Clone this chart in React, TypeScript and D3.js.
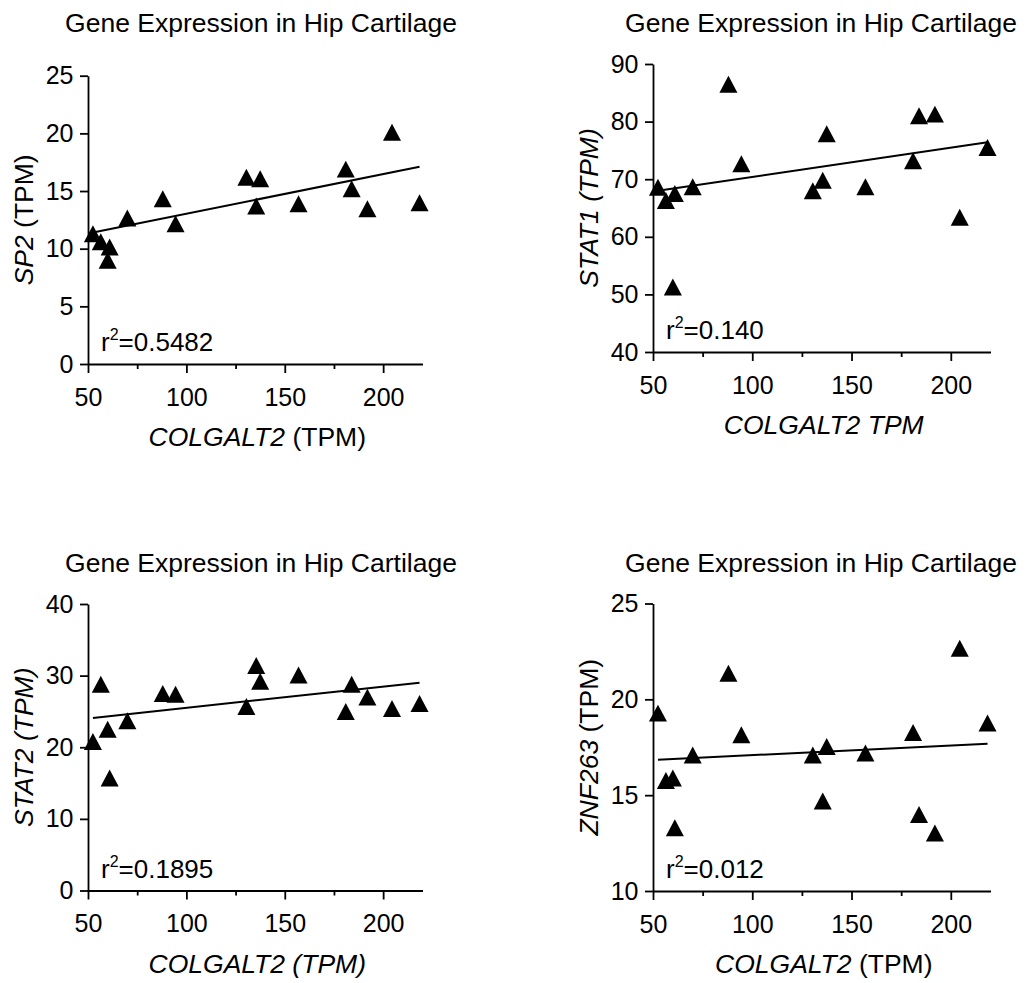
import React, { useEffect, useRef } from "react";
import * as d3 from "d3";

// COLGALT2 TPM per sample (shared x for all four panels)
const colgalt2 = [52.5, 56.5, 60, 61, 70, 88, 94.5, 130.5, 135.5, 137.5, 157, 181, 184, 192, 204.5, 218.5];

// y values
const sp2 = [11.3, 10.6, 9.0, 10.15, 12.66, 14.33, 12.17, 16.2, 13.7, 16.06, 13.9, 16.9, 15.2, 13.47, 20.1, 13.98];
const stat1 = [68.6, 66.3, 51.3, 67.5, 68.7, 86.5, 72.7, 68.0, 69.8, 77.9, 68.7, 73.2, 81.0, 81.3, 63.4, 75.5];
const stat2 = [20.8, 28.8, 22.5, 15.7, 23.7, 27.5, 27.4, 25.7, 31.4, 29.2, 30.1, 25.0, 28.8, 27.0, 25.4, 26.1];
const znf263 = [19.28, 15.77, 15.9, 13.3, 17.1, 21.36, 18.15, 17.1, 14.7, 17.54, 17.2, 18.27, 13.99, 13.03, 22.66, 18.76];

// fitted line value at min x and max x
const fitSp2 = [11.4, 17.1];
const fitStat1 = [68.0, 76.4];
const fitStat2 = [24.1, 29.0];
const fitZnf263 = [16.85, 17.68];

const r2Labels = ["0.5482", "0.140", "0.1895", "0.012"];

const xDomain = [50, 220];
const xTicks = [50, 100, 150, 200];
const xMinorTicks = [75, 125, 175];

const yTicksSp2 = [0, 5, 10, 15, 20, 25];
const yTicksStat1 = [40, 50, 60, 70, 80, 90];
const yTicksStat2 = [0, 10, 20, 30, 40];
const yTicksZnf263 = [10, 15, 20, 25];

const title = "Gene Expression in Hip Cartilage";

const FONT = "'Liberation Sans', Arimo, Arial, Helvetica, sans-serif";

type Seg = { t: string; i: boolean };

const panels = [
  {
    ys: sp2, fit: fitSp2, r2: r2Labels[0], yTicks: yTicksSp2,
    yLabel: [{ t: "SP2", i: true }, { t: " (TPM)", i: false }] as Seg[],
    xLabel: [{ t: "COLGALT2", i: true }, { t: " (TPM)", i: false }] as Seg[],
    left: 88, right: 422.5, top: 75.7, bottom: 364, titleX: 261, titleY: 32,
  },
  {
    ys: stat1, fit: fitStat1, r2: r2Labels[1], yTicks: yTicksStat1,
    yLabel: [{ t: "STAT1 (TPM)", i: true }] as Seg[],
    xLabel: [{ t: "COLGALT2 TPM", i: true }] as Seg[],
    left: 653, right: 990.5, top: 64, bottom: 352, titleX: 821, titleY: 32,
  },
  {
    ys: stat2, fit: fitStat2, r2: r2Labels[2], yTicks: yTicksStat2,
    yLabel: [{ t: "STAT2 (TPM)", i: true }] as Seg[],
    xLabel: [{ t: "COLGALT2 (TPM)", i: true }] as Seg[],
    left: 88, right: 422.5, top: 604, bottom: 890.5, titleX: 261, titleY: 572,
  },
  {
    ys: znf263, fit: fitZnf263, r2: r2Labels[3], yTicks: yTicksZnf263,
    yLabel: [{ t: "ZNF263", i: true }, { t: " (TPM)", i: false }] as Seg[],
    xLabel: [{ t: "COLGALT2", i: true }, { t: " (TPM)", i: false }] as Seg[],
    left: 653, right: 990.5, top: 603.5, bottom: 891, titleX: 821, titleY: 572,
  },
];

// triangle centred on its bounding box
const triangle = {
  draw(ctx: any, size: number) {
    const w = Math.sqrt(size * 2.1);
    const h = w * 0.94;
    ctx.moveTo(0, -h / 2);
    ctx.lineTo(w / 2, h / 2);
    ctx.lineTo(-w / 2, h / 2);
    ctx.closePath();
  },
};

const addSegments = (text: any, segs: Seg[]) => {
  segs.forEach((s) => {
    text.append("tspan").attr("font-style", s.i ? "italic" : "normal").text(s.t);
  });
};

const App = () => {
  const svgRef = useRef<SVGSVGElement>(null);

  useEffect(() => {
    const svg = d3.select(svgRef.current);
    svg.selectAll("*").remove();

    panels.forEach((p) => {
      const g = svg.append("g");
      const x = d3.scaleLinear().domain(xDomain).range([p.left, p.right]);
      const y = d3.scaleLinear().domain(d3.extent(p.yTicks) as [number, number]).range([p.bottom, p.top]);

      // title
      g.append("text")
        .attr("x", p.titleX).attr("y", p.titleY)
        .attr("text-anchor", "middle")
        .attr("font-size", 26.5)
        .text(title);

      // minor x ticks
      const minor = g.append("g")
        .attr("transform", `translate(0,${p.bottom})`)
        .call(d3.axisBottom(x).tickValues(xMinorTicks).tickSize(5).tickFormat(() => ""));
      minor.select(".domain").remove();

      // x axis
      const xa = g.append("g")
        .attr("transform", `translate(0,${p.bottom})`)
        .call(d3.axisBottom(x).tickValues(xTicks).tickSize(9).tickPadding(15).tickSizeOuter(0));

      // y axis
      const ya = g.append("g")
        .attr("transform", `translate(${p.left},0)`)
        .call(d3.axisLeft(y).tickValues(p.yTicks).tickSize(8).tickPadding(6.5).tickSizeOuter(0));

      [minor, xa, ya].forEach((a) => {
        a.attr("font-family", FONT).attr("font-size", 25);
        a.selectAll("path, line").attr("stroke", "#000").attr("stroke-width", 1.8);
        a.selectAll("text").attr("fill", "#000");
      });

      // fit line
      const xs = d3.extent(colgalt2) as [number, number];
      g.append("line")
        .attr("x1", x(xs[0])).attr("y1", y(p.fit[0]))
        .attr("x2", x(xs[1])).attr("y2", y(p.fit[1]))
        .attr("stroke", "#000").attr("stroke-width", 2);

      // points
      const sym = d3.symbol().type(triangle as any).size(155);
      g.selectAll("path.pt")
        .data(colgalt2.map((c, i) => [c, p.ys[i]]))
        .join("path")
        .attr("class", "pt")
        .attr("transform", (d) => `translate(${x(d[0])},${y(d[1])})`)
        .attr("d", sym() as string)
        .attr("fill", "#000");

      // r^2
      const rt = g.append("text")
        .attr("x", p.left + 13).attr("y", p.bottom - 13)
        .attr("font-size", 26);
      rt.append("tspan").text("r");
      rt.append("tspan").attr("font-size", 16).attr("dy", -11).text("2");
      rt.append("tspan").attr("dy", 11).text("=" + p.r2);

      // y label
      const yl = g.append("text")
        .attr("transform", `translate(${p.left - 55},${(p.top + p.bottom) / 2}) rotate(-90)`)
        .attr("text-anchor", "middle")
        .attr("font-size", 26.5)
        .style("white-space", "pre");
      addSegments(yl, p.yLabel);

      // x label
      const xl = g.append("text")
        .attr("x", (p.left + p.right) / 2 + 2).attr("y", p.bottom + 82)
        .attr("text-anchor", "middle")
        .attr("font-size", 26.5)
        .style("white-space", "pre");
      addSegments(xl, p.xLabel);
    });
  }, []);

  return (
    <div style={{ position: "absolute", left: 0, top: 0, background: "#fff" }}>
      <svg ref={svgRef} width={1029} height={983} fontFamily={FONT} style={{ display: "block" }} />
    </div>
  );
};

export default App;
